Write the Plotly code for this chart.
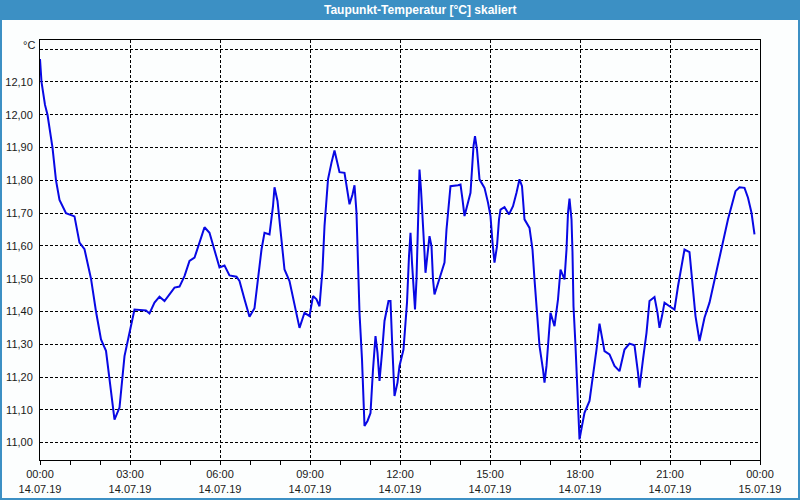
import plotly.graph_objects as go
import pandas as pd

# ---- data ----
minutes = [0, 3, 10, 15, 25, 32, 39, 52, 69, 79, 89, 102, 112, 122, 132, 139, 149, 159, 169, 179,
           189, 212, 219, 229, 239, 249, 269, 279, 289, 299, 309, 319, 329, 339, 349, 359, 369,
           379, 393, 399, 409, 419, 429, 436, 443, 449, 459, 466, 469, 475, 481, 489, 499, 511,
           519, 529, 539, 546, 553, 559, 565, 569, 576, 583, 589, 599, 609, 619, 625, 629, 633,
           636, 639, 644, 649, 655, 661, 666, 671, 675, 679, 684, 689, 697, 701, 704, 709, 715,
           719, 727, 731, 734, 738, 741, 744, 747, 750, 753, 756, 759, 762, 765, 769, 771, 774,
           779, 783, 786, 789, 796, 803, 809, 813, 818, 821, 836, 841, 845, 849, 856, 861, 864,
           867, 870, 874, 879, 889, 896, 901, 905, 909, 914, 918, 921, 929, 938, 946, 953, 959,
           964, 969, 979, 985, 989, 994, 999, 1006, 1009, 1013, 1016, 1021, 1029, 1036, 1041,
           1049, 1053, 1056, 1059, 1063, 1065, 1067, 1071, 1075, 1077, 1079, 1084, 1089, 1099,
           1106, 1113, 1119, 1129, 1139, 1149, 1159, 1169, 1179, 1189, 1196, 1199, 1206, 1213,
           1219, 1229, 1235, 1239, 1244, 1249, 1259, 1269, 1276, 1283, 1289, 1299, 1306, 1311,
           1319, 1329, 1339, 1349, 1359, 1368, 1376, 1383, 1391, 1399, 1409, 1416, 1423, 1429]
dew_point = [12.17, 12.10, 12.03, 12.00, 11.90, 11.80, 11.74, 11.70, 11.69, 11.61, 11.59, 11.50,
             11.40, 11.315, 11.28, 11.19, 11.07, 11.107, 11.264, 11.335, 11.406, 11.403, 11.394,
             11.427, 11.445, 11.432, 11.473, 11.476, 11.508, 11.554, 11.564, 11.61, 11.657,
             11.64, 11.589, 11.534, 11.54,
             11.51, 11.506, 11.493, 11.437, 11.384, 11.41, 11.498, 11.589, 11.64, 11.635, 11.721,
             11.779, 11.737, 11.65, 11.528, 11.493, 11.406, 11.35, 11.396, 11.386, 11.447, 11.437,
             11.416, 11.528, 11.66, 11.803, 11.854, 11.891, 11.825, 11.823, 11.727, 11.757,
             11.785, 11.701, 11.549, 11.396, 11.254, 11.051, 11.066, 11.09, 11.223, 11.325,
             11.274, 11.188, 11.274, 11.371, 11.432, 11.432, 11.315, 11.142, 11.183, 11.234,
             11.284, 11.356, 11.427, 11.569, 11.64, 11.549, 11.488, 11.406, 11.498, 11.66,
             11.833, 11.772, 11.701, 11.579, 11.518, 11.569, 11.63, 11.599, 11.498, 11.452,
             11.488, 11.518, 11.549, 11.65, 11.732, 11.782, 11.785, 11.787, 11.742, 11.691,
             11.732, 11.762, 11.833, 11.904, 11.935, 11.894, 11.803, 11.777, 11.732, 11.691,
             11.61, 11.549, 11.599, 11.681, 11.711, 11.718, 11.696, 11.721, 11.762, 11.803,
             11.782, 11.681, 11.655, 11.589, 11.498, 11.386, 11.295, 11.223, 11.183, 11.234,
             11.305, 11.396, 11.355, 11.437, 11.528, 11.498, 11.589, 11.701, 11.744, 11.681,
             11.579, 11.416, 11.295, 11.173, 11.071, 11.01, 11.051, 11.091, 11.127, 11.203,
             11.284, 11.363, 11.279, 11.269, 11.234, 11.218, 11.284, 11.302, 11.297, 11.213,
             11.168, 11.254, 11.335, 11.432, 11.444, 11.396, 11.35, 11.386, 11.427, 11.416,
             11.406, 11.477, 11.538, 11.589, 11.581, 11.467, 11.386, 11.31, 11.381, 11.427,
             11.498, 11.559, 11.63, 11.681, 11.721, 11.767, 11.779, 11.777, 11.747, 11.701,
             11.635]

x_tick_times = ["2019-07-14 00:00", "2019-07-14 03:00", "2019-07-14 06:00", "2019-07-14 09:00",
                "2019-07-14 12:00", "2019-07-14 15:00", "2019-07-14 18:00", "2019-07-14 21:00",
                "2019-07-15 00:00"]
x_tick_labels = ["00:00<br>14.07.19", "03:00<br>14.07.19", "06:00<br>14.07.19",
                 "09:00<br>14.07.19", "12:00<br>14.07.19", "15:00<br>14.07.19",
                 "18:00<br>14.07.19", "21:00<br>14.07.19", "00:00<br>15.07.19"]
y_ticks = [11.0, 11.1, 11.2, 11.3, 11.4, 11.5, 11.6, 11.7, 11.8, 11.9, 12.0, 12.1, 12.2]
y_tick_labels = ["11,00", "11,10", "11,20", "11,30", "11,40", "11,50", "11,60", "11,70",
                 "11,80", "11,90", "12,00", "12,10", ""]
title_text = "Taupunkt-Temperatur [°C] skaliert"
unit_text = "°C"

start = pd.Timestamp("2019-07-14 00:00")
times = [start + pd.Timedelta(minutes=m) for m in minutes]
minor_ticks = [start + pd.Timedelta(hours=h) for h in range(25)]

FONT = "Liberation Sans"
TEXT = "#1a1a1a"
BG = "#fcfefe"
BLUE_BAR = "#3c90c4"

fig = go.Figure(go.Scatter(x=times, y=dew_point, mode="lines",
                           line=dict(color="#0808e4", width=2), hoverinfo="skip"))

W, H, L, R, T, B = 800, 500, 40, 40, 40, 40
pw, ph = W - L - R, H - T - B

def px(x):
    return (x - L) / pw

def py(y):
    return 1 - (y - T) / ph

fig.update_layout(
    width=W, height=H,
    margin=dict(l=L, r=R, t=T, b=B, pad=0, autoexpand=False),
    paper_bgcolor=BG, plot_bgcolor=BG,
    showlegend=False,
    font=dict(family=FONT, size=11, color=TEXT),
    xaxis=dict(
        range=[start, start + pd.Timedelta(hours=24)], automargin=False,
        tickmode="array", tickvals=x_tick_times, ticktext=x_tick_labels,
        ticks="outside", ticklen=4, tickcolor="black", tickwidth=1,
        minor=dict(tickmode="array", tickvals=minor_ticks, ticks="outside",
                   ticklen=4, tickcolor="black", showgrid=False),
        showgrid=True, gridcolor="black", gridwidth=1, griddash="3px,2px",
        showline=True, linecolor="black", linewidth=1, mirror=True,
        zeroline=False, tickfont=dict(size=11, color=TEXT),
    ),
    yaxis=dict(
        range=[10.947, 12.228], automargin=False,
        tickmode="array", tickvals=y_ticks, ticktext=y_tick_labels,
        ticks="", ticklabelstandoff=4,
        showgrid=True, gridcolor="black", gridwidth=1, griddash="3px,2px",
        showline=True, linecolor="black", linewidth=1, mirror=True,
        zeroline=False, tickfont=dict(size=11, color=TEXT),
    ),
    shapes=[
        dict(type="rect", xref="paper", yref="paper", layer="below",
             x0=px(0), x1=px(W), y0=py(20), y1=py(0),
             fillcolor=BLUE_BAR, line=dict(width=0)),
        dict(type="rect", xref="paper", yref="paper", layer="above",
             x0=px(1), x1=px(W - 1), y0=py(H - 1), y1=py(1),
             fillcolor="rgba(0,0,0,0)", line=dict(color=BLUE_BAR, width=2)),
    ],
    annotations=[
        dict(text="<b>" + title_text + "</b>", xref="paper", yref="paper",
             x=px(420), y=py(10), xanchor="center", yanchor="middle", showarrow=False,
             font=dict(family=FONT, size=12, color="white")),
        dict(text=unit_text, xref="paper", yref="paper",
             x=px(37), y=py(45), xanchor="right", yanchor="middle", showarrow=False,
             font=dict(family=FONT, size=11, color=TEXT)),
    ],
)

fig.write_html("out.html")
